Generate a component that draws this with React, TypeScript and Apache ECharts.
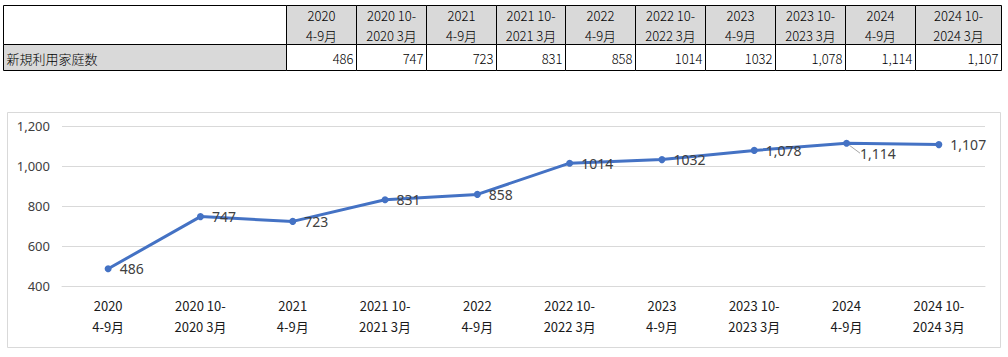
import React, { useEffect, useRef } from "react";
import * as echarts from "echarts";

const categories = [
  "2020\n4-9月",
  "2020 10-\n2020 3月",
  "2021\n4-9月",
  "2021 10-\n2021 3月",
  "2022\n4-9月",
  "2022 10-\n2022 3月",
  "2023\n4-9月",
  "2023 10-\n2023 3月",
  "2024\n4-9月",
  "2024 10-\n2024 3月",
];
const seriesName = "新規利用家庭数";
const values = [486, 747, 723, 831, 858, 1014, 1032, 1078, 1114, 1107];
const valueTexts = ["486", "747", "723", "831", "858", "1014", "1032", "1,078", "1,114", "1,107"];
const yTicks = [400, 600, 800, 1000, 1200];

const W = 1008;
const H = 357;
const colEdges = [3, 286, 356, 426, 496, 565, 635, 705, 775, 845, 915, 1001];
const tTop = 5;
const tMid = 44;
const tBot = 70;
const tableFont = '300 13px "Noto Sans CJK JP", "Noto Sans", sans-serif';

function buildTable(): any[] {
  const els: any[] = [];
  for (let i = 0; i < colEdges.length - 1; i++) {
    const x0 = colEdges[i] + 0.5;
    const x1 = colEdges[i + 1] + 0.5;
    els.push({
      type: "rect",
      shape: { x: x0, y: tTop + 0.5, width: x1 - x0, height: tMid - tTop },
      style: { fill: i === 0 ? "#ffffff" : "#d9d9d9", stroke: "#000", lineWidth: 1 },
      z: 1,
    });
    els.push({
      type: "rect",
      shape: { x: x0, y: tMid + 0.5, width: x1 - x0, height: tBot - tMid },
      style: { fill: i === 0 ? "#d9d9d9" : "#ffffff", stroke: "#000", lineWidth: 1 },
      z: 1,
    });
    if (i === 0) {
      els.push({
        type: "text",
        style: {
          text: seriesName, x: x0 + 3, y: (tMid + tBot) / 2 + 1, fill: "#000", font: tableFont,
          align: "left", verticalAlign: "middle", textAlign: "left", textVerticalAlign: "middle",
        },
        z: 2,
      });
    } else {
      const lines = categories[i - 1].split("\n");
      const cx = (x0 + x1) / 2;
      els.push({
        type: "text",
        style: {
          text: lines[0], x: cx, y: 15, fill: "#000", font: tableFont,
          align: "center", verticalAlign: "middle", textAlign: "center", textVerticalAlign: "middle",
        },
        z: 2,
      });
      els.push({
        type: "text",
        style: {
          text: lines[1], x: cx, y: 35, fill: "#000", font: tableFont,
          align: "center", verticalAlign: "middle", textAlign: "center", textVerticalAlign: "middle",
        },
        z: 2,
      });
      els.push({
        type: "text",
        style: {
          text: valueTexts[i - 1], x: x1 - 3, y: (tMid + tBot) / 2 + 1, fill: "#000", font: tableFont,
          align: "right", verticalAlign: "middle", textAlign: "right", textVerticalAlign: "middle",
        },
        z: 2,
      });
    }
  }
  return els;
}

export default function App() {
  const ref = useRef<HTMLDivElement>(null);
  useEffect(() => {
    if (!ref.current) return;
    const chart = echarts.init(ref.current, null, { renderer: "svg" });
    const graphics: any[] = [
      {
        type: "rect",
        shape: { x: 7.5, y: 112.5, width: 993, height: 235 },
        style: { fill: "#ffffff", stroke: "#d9d9d9", lineWidth: 1 },
        z: -10,
        silent: true,
      },
      ...buildTable(),
    ];
    chart.setOption({
      animation: false,
      backgroundColor: "#ffffff",
      textStyle: { fontFamily: '"Noto Sans", "Noto Sans CJK JP", sans-serif' },
      grid: { left: 62, right: W - 985, top: 126, bottom: H - 286, containLabel: false },
      graphic: graphics,
      xAxis: {
        type: "category",
        data: categories,
        boundaryGap: true,
        axisLine: { show: true, lineStyle: { color: "#d9d9d9", width: 1 } },
        axisTick: { show: false },
        axisLabel: {
          color: "#1a1a1a",
          fontSize: 13,
          lineHeight: 21,
          margin: 9,
          interval: 0,
          fontFamily: '"Noto Sans CJK JP", sans-serif',
        },
      },
      yAxis: {
        type: "value",
        min: yTicks[0],
        max: yTicks[yTicks.length - 1],
        interval: yTicks[1] - yTicks[0],
        axisLine: { show: false },
        axisTick: { show: false },
        splitLine: { lineStyle: { color: "#d9d9d9", width: 1 } },
        axisLabel: {
          color: "#404040",
          fontSize: 13,
          margin: 12,
          formatter: (v: number) => v.toLocaleString("en-US"),
        },
      },
      series: [
        {
          name: seriesName,
          type: "line",
          data: values.map((v, i) =>
            i === 8
              ? {
                  value: v,
                  labelLine: { show: true, lineStyle: { color: "#a6a6a6", width: 1 } },
                }
              : v
          ),
          symbol: "circle",
          symbolSize: 7,
          lineStyle: { color: "#4472C4", width: 3 },
          itemStyle: { color: "#4472C4" },
          labelLayout: (p: any) => (p.dataIndex === 8 ? { dx: 2, dy: 10 } : {}),
          label: {
            show: true,
            position: "right",
            distance: 8,
            color: "#404040",
            fontSize: 14,
            formatter: (p: any) => valueTexts[p.dataIndex],
          },
        },
      ],
    });
    return () => chart.dispose();
  }, []);
  return (
    <div
      ref={ref}
      style={{ position: "absolute", left: 0, top: 0, width: W, height: H, background: "#fff" }}
    />
  );
}
